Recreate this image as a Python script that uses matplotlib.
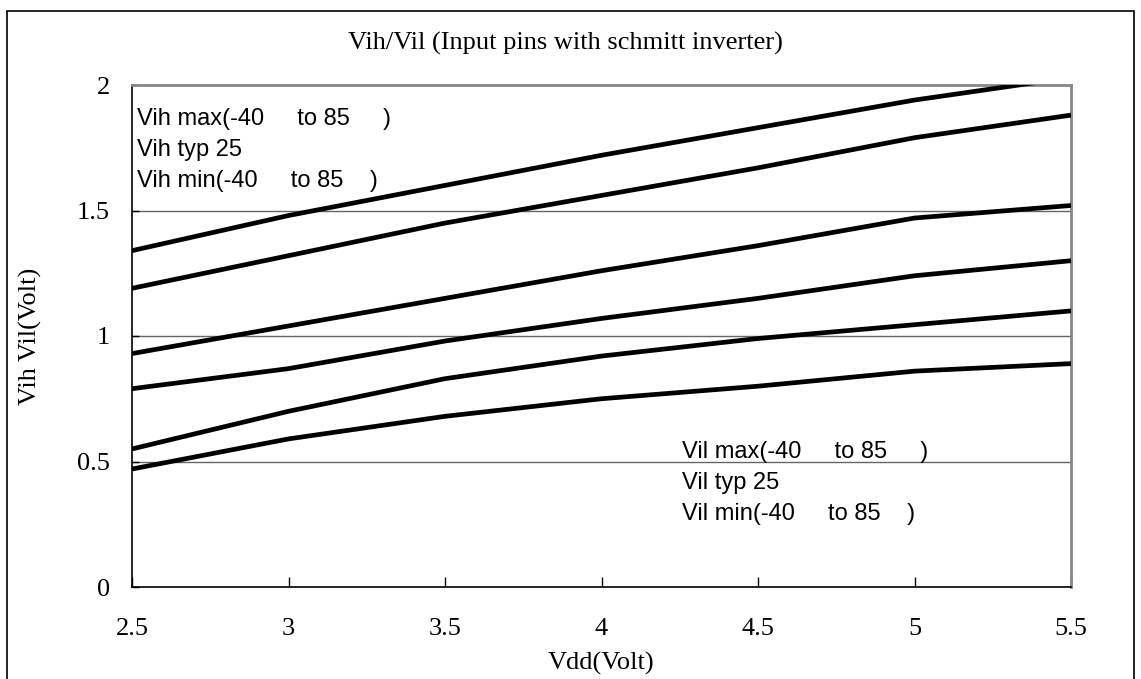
import matplotlib
matplotlib.use('Agg')
import matplotlib.pyplot as plt
from matplotlib.patches import Rectangle

# Vdd values and the six threshold curves (Volt)
vdd = [2.5, 3, 3.5, 4, 4.5, 5, 5.5]
vih_max = [1.34, 1.48, 1.60, 1.72, 1.83, 1.94, 2.03]
vih_typ = [1.19, 1.32, 1.45, 1.56, 1.67, 1.79, 1.88]
vih_min = [0.93, 1.04, 1.15, 1.26, 1.36, 1.47, 1.52]
vil_max = [0.79, 0.87, 0.98, 1.07, 1.15, 1.24, 1.30]
vil_typ = [0.55, 0.70, 0.83, 0.92, 0.99, 1.045, 1.10]
vil_min = [0.47, 0.59, 0.68, 0.75, 0.80, 0.86, 0.89]

xticks = [2.5, 3, 3.5, 4, 4.5, 5, 5.5]
xticklabels = ['2.5', '3', '3.5', '4', '4.5', '5', '5.5']
yticks = [0, 0.5, 1, 1.5, 2]
yticklabels = ['0', '0.5', '1', '1.5', '2']

vih_text = ['Vih max(-40     to 85     )', 'Vih typ 25', 'Vih min(-40     to 85    )']
vil_text = ['Vil max(-40     to 85     )', 'Vil typ 25', 'Vil min(-40     to 85    )']

serif = ['Liberation Serif', 'DejaVu Serif']
sans = ['Liberation Sans', 'DejaVu Sans']
fs_serif = 19
fs_sans = 17

W, H = 1141, 679
fig = plt.figure(figsize=(W / 100, H / 100), dpi=100)
ax = fig.add_axes([132 / W, 1 - 587 / H, (1071 - 132) / W, (587 - 85) / H])

# figure border
fig.patches.append(Rectangle((7 / W, -0.05), (1134 - 7) / W, 1 - 11 / H + 0.05,
                             transform=fig.transFigure, fill=False,
                             edgecolor='black', lw=1.2))

for yv in [0.5, 1, 1.5]:
    ax.axhline(yv, color='#666666', lw=1.0, zorder=1)

for series in [vih_max, vih_typ, vih_min, vil_max, vil_typ, vil_min]:
    ax.plot(vdd, series, color='black', lw=3.4, zorder=3, solid_capstyle='butt')

ax.set_xlim(2.5, 5.5)
ax.set_ylim(0, 2)
ax.set_xticks(xticks)
ax.set_xticklabels(xticklabels, family=serif, fontsize=fs_serif)
ax.set_yticks(yticks)
ax.set_yticklabels(yticklabels, family=serif, fontsize=fs_serif)
ax.tick_params(axis='x', direction='in', length=7, width=1, pad=22)
ax.tick_params(axis='y', direction='in', length=5, width=1, pad=16)

ax.spines['left'].set_color('black')
ax.spines['bottom'].set_color('black')
ax.spines['left'].set_linewidth(1.2)
ax.spines['bottom'].set_linewidth(1.2)
ax.spines['top'].set_color('#888888')
ax.spines['right'].set_color('#888888')
ax.spines['top'].set_linewidth(2)
ax.spines['right'].set_linewidth(2)

fig.text(601 / W, 1 - 663 / H, 'Vdd(Volt)', family=serif, fontsize=fs_serif,
         ha='center', va='center')
fig.text(30 / W, 1 - 336 / H, 'Vih Vil(Volt)', family=serif, fontsize=fs_serif,
         rotation=90, ha='center', va='center')
fig.text(565 / W, 1 - 43 / H, 'Vih/Vil (Input pins with schmitt inverter)',
         family=serif, fontsize=fs_serif, ha='center', va='center')

for i, t in enumerate(vih_text):
    fig.text(137 / W, 1 - (119 + 31 * i) / H, t, family=sans, fontsize=fs_sans,
             ha='left', va='center')
for i, t in enumerate(vil_text):
    fig.text(682 / W, 1 - (452 + 31 * i) / H, t, family=sans, fontsize=fs_sans,
             ha='left', va='center')

fig.savefig('out.png', dpi=100)
